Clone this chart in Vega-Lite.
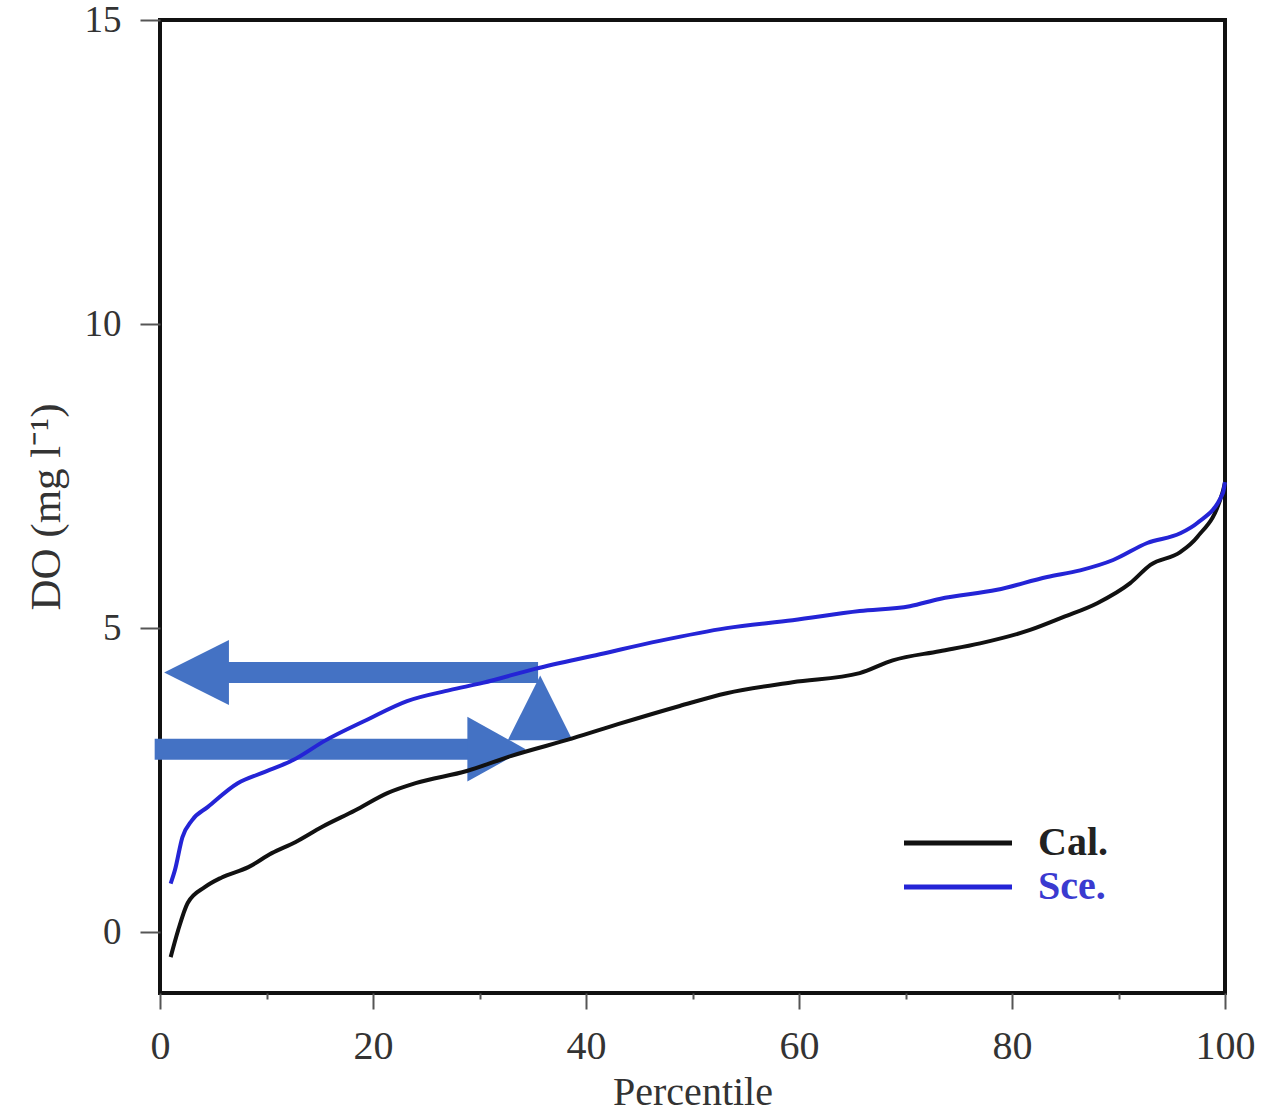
{
  "$schema": "https://vega.github.io/schema/vega-lite/v6.json",
  "autosize": {"type": "none"},
  "width": 1065,
  "height": 973,
  "padding": {"left": 160, "top": 20, "right": 52, "bottom": 124},
  "background": "white",
  "config": {
    "view": {"stroke": "#111111", "strokeWidth": 4},
    "font": "Liberation Serif"
  },
  "datasets": {
    "curves": [
      {"series": "Cal.", "p": 1.0, "v": -0.41},
      {"series": "Cal.", "p": 1.7, "v": 0.03},
      {"series": "Cal.", "p": 2.6, "v": 0.48},
      {"series": "Cal.", "p": 4.2, "v": 0.74},
      {"series": "Cal.", "p": 5.8, "v": 0.9},
      {"series": "Cal.", "p": 8.3, "v": 1.07},
      {"series": "Cal.", "p": 10.5, "v": 1.3},
      {"series": "Cal.", "p": 12.7, "v": 1.48},
      {"series": "Cal.", "p": 15.2, "v": 1.73},
      {"series": "Cal.", "p": 18.3, "v": 2.0},
      {"series": "Cal.", "p": 21.4, "v": 2.29},
      {"series": "Cal.", "p": 24.0, "v": 2.45},
      {"series": "Cal.", "p": 28.8, "v": 2.65},
      {"series": "Cal.", "p": 33.0, "v": 2.9},
      {"series": "Cal.", "p": 38.8, "v": 3.19},
      {"series": "Cal.", "p": 43.0, "v": 3.42},
      {"series": "Cal.", "p": 48.8, "v": 3.72},
      {"series": "Cal.", "p": 53.2, "v": 3.93},
      {"series": "Cal.", "p": 59.4, "v": 4.11},
      {"series": "Cal.", "p": 65.7, "v": 4.26},
      {"series": "Cal.", "p": 68.8, "v": 4.47},
      {"series": "Cal.", "p": 73.2, "v": 4.62},
      {"series": "Cal.", "p": 77.0, "v": 4.75},
      {"series": "Cal.", "p": 81.7, "v": 4.97},
      {"series": "Cal.", "p": 84.8, "v": 5.18},
      {"series": "Cal.", "p": 88.0, "v": 5.41},
      {"series": "Cal.", "p": 91.1, "v": 5.74},
      {"series": "Cal.", "p": 93.0, "v": 6.04},
      {"series": "Cal.", "p": 95.8, "v": 6.25},
      {"series": "Cal.", "p": 97.4, "v": 6.5},
      {"series": "Cal.", "p": 99.8, "v": 7.25},
      {"series": "Cal.", "p": 100.0, "v": 7.4},
      {"series": "Sce.", "p": 1.0, "v": 0.8},
      {"series": "Sce.", "p": 1.4, "v": 1.02},
      {"series": "Sce.", "p": 2.1, "v": 1.56},
      {"series": "Sce.", "p": 3.0, "v": 1.84},
      {"series": "Sce.", "p": 4.5, "v": 2.06},
      {"series": "Sce.", "p": 7.3, "v": 2.45},
      {"series": "Sce.", "p": 9.6, "v": 2.62},
      {"series": "Sce.", "p": 12.5, "v": 2.83},
      {"series": "Sce.", "p": 15.5, "v": 3.15},
      {"series": "Sce.", "p": 19.4, "v": 3.49},
      {"series": "Sce.", "p": 23.2, "v": 3.8},
      {"series": "Sce.", "p": 27.2, "v": 3.98},
      {"series": "Sce.", "p": 30.3, "v": 4.1},
      {"series": "Sce.", "p": 35.2, "v": 4.33},
      {"series": "Sce.", "p": 41.3, "v": 4.57},
      {"series": "Sce.", "p": 46.9, "v": 4.79},
      {"series": "Sce.", "p": 53.2, "v": 5.0},
      {"series": "Sce.", "p": 59.4, "v": 5.13},
      {"series": "Sce.", "p": 65.7, "v": 5.28},
      {"series": "Sce.", "p": 70.4, "v": 5.36},
      {"series": "Sce.", "p": 73.2, "v": 5.48},
      {"series": "Sce.", "p": 78.6, "v": 5.63},
      {"series": "Sce.", "p": 83.3, "v": 5.84},
      {"series": "Sce.", "p": 86.4, "v": 5.95},
      {"series": "Sce.", "p": 89.5, "v": 6.12},
      {"series": "Sce.", "p": 92.7, "v": 6.4},
      {"series": "Sce.", "p": 95.8, "v": 6.56},
      {"series": "Sce.", "p": 97.4, "v": 6.73},
      {"series": "Sce.", "p": 99.8, "v": 7.22},
      {"series": "Sce.", "p": 100.0, "v": 7.4}
    ],
    "shafts": [
      {"p": 5.0, "p2": 35.5, "v": 4.27},
      {"p": -0.5, "p2": 30.0, "v": 3.01}
    ],
    "heads": [
      {"dir": "left", "p": 3.43, "v": 4.27},
      {"dir": "right", "p": 31.6, "v": 3.01},
      {"dir": "up", "p": 35.7, "v": 3.69}
    ]
  },
  "encoding": {
    "x": {
      "field": "p",
      "type": "quantitative",
      "scale": {"domain": [0, 100], "nice": false, "zero": false},
      "axis": {
        "title": "Percentile",
        "values": [0, 10, 20, 30, 40, 50, 60, 70, 80, 90, 100],
        "labelExpr": "datum.value % 20 === 0 ? datum.label : ''",
        "tickSize": {"condition": {"test": "datum.value % 20 === 0", "value": 16}, "value": 6},
        "tickColor": "#555555",
        "tickWidth": 2,
        "domain": false,
        "grid": false,
        "labelFont": "Liberation Serif",
        "labelFontSize": 40,
        "labelColor": "#333333",
        "labelPadding": 17,
        "labelFlush": false,
        "labelOverlap": false,
        "titleFont": "Liberation Serif",
        "titleFontSize": 40,
        "titleFontWeight": "normal",
        "titleColor": "#333333",
        "titlePadding": 6
      }
    },
    "y": {
      "field": "v",
      "type": "quantitative",
      "scale": {"domain": [-1, 15], "nice": false, "zero": false},
      "axis": {
        "title": "DO (mg l⁻¹)",
        "values": [0, 5, 10, 15],
        "tickSize": 20,
        "tickColor": "#555555",
        "tickWidth": 2,
        "domain": false,
        "grid": false,
        "labelFont": "Liberation Serif",
        "labelFontSize": 37,
        "labelColor": "#333333",
        "labelPadding": 19,
        "labelFlush": false,
        "labelOverlap": false,
        "titleFont": "Liberation Serif",
        "titleFontSize": 43,
        "titleFontWeight": "normal",
        "titleColor": "#333333",
        "titlePadding": 16
      }
    }
  },
  "layer": [
    {
      "data": {"name": "shafts"},
      "mark": {"type": "rule", "color": "#4472C4", "strokeWidth": 21, "strokeCap": "butt"},
      "encoding": {"x2": {"field": "p2"}}
    },
    {
      "data": {"name": "heads"},
      "mark": {"type": "point", "filled": true, "color": "#4472C4", "size": 4200, "opacity": 1, "strokeWidth": 0},
      "encoding": {
        "shape": {
          "field": "dir",
          "type": "nominal",
          "scale": {
            "domain": ["left", "right", "up"],
            "range": ["M-1,0L1,-1L1,1Z", "M0.9,0L-0.9,-1L-0.9,1Z", "M0,-1L1,1L-1,1Z"]
          },
          "legend": null
        }
      }
    },
    {
      "data": {"name": "curves"},
      "mark": {"type": "line", "strokeWidth": 4, "interpolate": "monotone"},
      "encoding": {
        "color": {
          "field": "series",
          "type": "nominal",
          "scale": {"domain": ["Cal.", "Sce."], "range": ["#111111", "#2424d6"]},
          "legend": {
            "title": null,
            "orient": "none",
            "legendX": 778,
            "legendY": 803,
            "symbolType": "M-4,0H4",
            "symbolSize": 729,
            "symbolStrokeWidth": 5,
            "symbolFillColor": "transparent",
            "labelFont": "Liberation Serif",
            "labelFontSize": 40,
            "labelFontWeight": "bold",
            "labelOffset": 60,
            "rowPadding": 4,
            "encode": {
              "labels": {"update": {"fill": {"signal": "datum.label === 'Sce.' ? '#3a3ad0' : '#222222'"}}}
            }
          }
        }
      }
    }
  ]
}
